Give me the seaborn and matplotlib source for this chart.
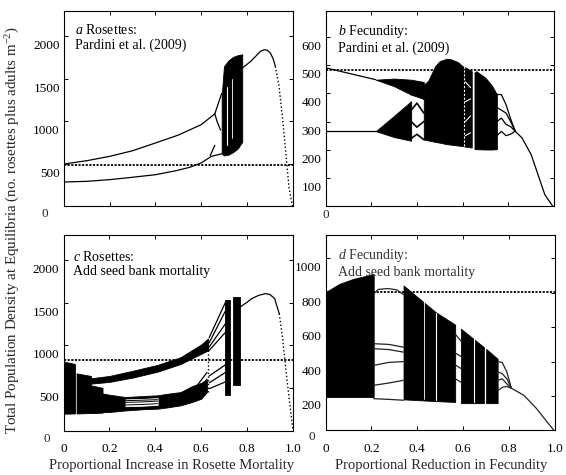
import numpy as np
import pandas as pd
import seaborn as sns
import matplotlib.pyplot as plt
from matplotlib.transforms import ScaledTranslation

sns.set_theme(style="ticks")
plt.rcParams['font.family'] = ['Liberation Serif', 'DejaVu Serif']
plt.rcParams['mathtext.fontset'] = 'custom'
plt.rcParams['mathtext.rm'] = 'Liberation Serif'
plt.rcParams['mathtext.it'] = 'Liberation Serif:italic'
plt.rcParams['axes.edgecolor'] = 'black'

# ---------------- data ----------------
X_TICKS = [0, 0.2, 0.4, 0.6, 0.8, 1.0]
X_TICK_LABELS = ['0', '0.2', '0.4', '0.6', '0.8', '1.0']

# Panel a
a_ref = 492
a_up_x = [0, 0.1, 0.2, 0.3, 0.4, 0.5, 0.6, 0.66]
a_up_v = [500, 539, 590, 656, 747, 840, 962, 1090]
a_lo_x = [0, 0.1, 0.2, 0.3, 0.4, 0.49, 0.55, 0.6, 0.645, 0.69]
a_lo_v = [288, 296, 316, 344, 374, 421, 461, 512, 590, 620]
a_spur1_x = [0.66, 0.675, 0.69]
a_spur1_v = [1090, 1210, 1330]
a_spur2_x = [0.66, 0.67, 0.685]
a_spur2_v = [1090, 1000, 900]
a_spur3_x = [0.64, 0.65, 0.66]
a_spur3_v = [600, 660, 720]
a_ch_x = [0.69, 0.70, 0.72, 0.74, 0.76, 0.78]
a_ch_lo = [620, 600, 610, 640, 680, 760]
a_ch_hi = [1300, 1650, 1720, 1760, 1780, 1790]
a_st_x = [0.78, 0.80, 0.817, 0.84, 0.86, 0.877, 0.89, 0.903, 0.915, 0.925]
a_st_v = [1630, 1670, 1708, 1770, 1826, 1845, 1838, 1806, 1740, 1649]
a_dot_x = [0.925, 0.94, 0.955, 0.97, 0.985, 1.0]
a_dot_v = [1649, 1433, 1080, 649, 218, 0]

# Panel b
b_ref = 484
b_up_x = [0, 0.22]
b_up_v = [490, 448]
b_wedge_x = [0.22, 0.3, 0.375, 0.43]
b_wedge_hi = [448, 452, 448, 440]
b_wedge_lo = [448, 425, 395, 380]
b_low_x = [0, 0.22]
b_low_v = [266, 266]
b_tri_x = [0.22, 0.3, 0.375]
b_tri_hi = [266, 320, 372]
b_tri_lo = [266, 245, 232]
b_win_x = [0.375, 0.40, 0.43]
b_win_lines = [[440, 430, 425], [395, 410, 380], [340, 365, 330],
               [300, 280, 300], [240, 255, 236]]
b_bl1_x = [0.43, 0.45, 0.48, 0.50, 0.53, 0.55, 0.58, 0.60, 0.62, 0.64]
b_bl1_hi = [430, 445, 496, 514, 522, 520, 510, 496, 488, 478]
b_bl1_lo = [236, 233, 228, 225, 220, 218, 215, 213, 210, 208]
b_bl2_x = [0.652, 0.66, 0.7, 0.73, 0.75]
b_bl2_hi = [473, 478, 455, 425, 396]
b_bl2_lo = [203, 202, 201, 201, 202]
b_tail_x = [0.75, 0.77, 0.79, 0.81, 0.83]
b_tail_lines = [[396, 395, 360, 310, 266], [350, 340, 330, 300, 266],
                [300, 312, 290, 282, 266], [250, 265, 250, 255, 266]]
b_st_x = [0.83, 0.86, 0.9, 0.93, 0.96, 0.995]
b_st_v = [266, 242, 183, 112, 41, 0]

# Panel c
c_ref = 824
c_bk1_x = [0, 0.05]
c_bk1_hi = [810, 780]
c_bk1_lo = [197, 200]
c_bk2_x = [0.057, 0.12]
c_bk2_hi = [670, 640]
c_bk2_lo = [200, 205]
c_bk3_x = [0.12, 0.17]
c_bk3_hi = [530, 500]
c_bk3_lo = [205, 210]
c_ub_x = [0.08, 0.2, 0.3, 0.41, 0.51, 0.6, 0.63]
c_ub_hi = [600, 640, 700, 770, 860, 1010, 1080]
c_ub_lo = [540, 570, 620, 690, 780, 900, 940]
c_lb_x = [0.12, 0.2, 0.27, 0.35, 0.41, 0.45, 0.51, 0.56, 0.6, 0.625]
c_lb_lo = [210, 217, 235, 250, 256, 270, 295, 334, 373, 451]
c_lb_hi = [460, 420, 393, 405, 413, 430, 451, 520, 560, 600]
c_hole_x = [0.27, 0.34, 0.41]
c_hole_lo = [285, 290, 300]
c_hole_hi = [365, 370, 380]
c_hole_lines = [[300, 305, 315], [330, 335, 345], [350, 355, 362]]
c_vdot_x = [0.63, 0.63]
c_vdot_v = [451, 1080]
c_fan_x = [0.635, 0.705]
c_fan_lines = [[1090, 1500], [1030, 1400], [980, 1250], [940, 1150],
               [640, 770], [560, 680], [490, 570]]
c_diag_x = [0.56, 0.625]
c_diag_lines = [[450, 680], [400, 600], [360, 520]]
c_bar1_x = [0.705, 0.725]
c_bar1_lo = [413, 413]
c_bar1_hi = [1528, 1528]
c_bar2_x = [0.74, 0.77]
c_bar2_lo = [530, 530]
c_bar2_hi = [1567, 1567]
c_st_x = [0.77, 0.80, 0.82, 0.85, 0.88, 0.90, 0.92, 0.94]
c_st_v = [1450, 1505, 1547, 1585, 1606, 1595, 1547, 1371]
c_dot_x = [0.94, 0.955, 0.97, 0.985, 1.0]
c_dot_v = [1371, 1078, 687, 334, 0]

# Panel d
d_ref = 804
d_bk1_x = [0, 0.06, 0.12, 0.21]
d_bk1_hi = [804, 852, 881, 910]
d_bk1_lo = [194, 194, 194, 194]
d_arch_x = [0.21, 0.23, 0.27, 0.31, 0.34]
d_arch_v = [794, 820, 825, 818, 790]
d_orb_x = [0.21, 0.275, 0.34]
d_orb_lines = [[504, 500, 484], [475, 470, 455], [378, 395, 400],
               [262, 275, 291], [184, 180, 175]]
d_bk2_x = [0.34, 0.48, 0.565]
d_bk2_hi = [843, 688, 615]
d_bk2_lo = [180, 170, 165]
d_mid_x = [0.565, 0.578, 0.59]
d_mid_lines = [[560, 540, 520], [450, 440, 430], [380, 370, 360], [300, 290, 280]]
d_bk4_x = [0.59, 0.69]
d_bk4_hi = [591, 484]
d_bk4_lo = [158, 158]
d_bk5_x = [0.70, 0.75]
d_bk5_hi = [474, 416]
d_bk5_lo = [158, 158]
d_tail_x = [0.75, 0.77, 0.79, 0.81]
d_tail_lines = [[400, 395, 340, 245], [340, 330, 300, 245],
                [290, 300, 270, 245], [230, 250, 255, 245]]
d_st_x = [0.81, 0.865, 0.92, 0.96, 0.995]
d_st_v = [245, 203, 126, 58, 0]

# ---------------- figure ----------------
W, H = 566, 475
fig = plt.figure(figsize=(W / 100, H / 100), dpi=100)


def rect(l, t, r, b):
    return [l / W, 1 - b / H, (r - l) / W, (b - t) / H]


ax_a = fig.add_axes(rect(64, 11, 292.5, 206.5))
ax_b = fig.add_axes(rect(325.5, 11.3, 554, 206.3))
ax_c = fig.add_axes(rect(63.5, 235.3, 293, 430.5))
ax_d = fig.add_axes(rect(325.5, 235.3, 555, 430.3))

LW = 0.9


def line(ax, x, y, color='black', lw=LW, ls='-', z=3):
    sns.lineplot(x=x, y=y, ax=ax, color=color, linewidth=lw, linestyle=ls,
                 estimator=None, sort=False, legend=False, zorder=z)


def band(ax, x, lo, hi, color='black', z=2):
    ax.fill_between(x, lo, hi, color=color, linewidth=0.6, edgecolor=color, zorder=z)


def refline(ax, v):
    ax.axhline(v, color='black', linewidth=1.3, linestyle=(0, (1.2, 0.8)), zorder=1)


# Panel a
refline(ax_a, a_ref)
line(ax_a, a_up_x, a_up_v)
line(ax_a, a_lo_x, a_lo_v)
line(ax_a, a_spur1_x, a_spur1_v)
line(ax_a, a_spur2_x, a_spur2_v)
line(ax_a, a_spur3_x, a_spur3_v)
band(ax_a, a_ch_x, a_ch_lo, a_ch_hi)
line(ax_a, [0.715, 0.715], [720, 1400], color='white', lw=0.8, z=4)
line(ax_a, [0.735, 0.735], [800, 1500], color='white', lw=0.6, z=4)
line(ax_a, a_st_x, a_st_v)
line(ax_a, a_dot_x, a_dot_v, lw=1.0, ls=':')

# Panel b
refline(ax_b, b_ref)
line(ax_b, b_up_x, b_up_v)
band(ax_b, b_wedge_x, b_wedge_lo, b_wedge_hi)
line(ax_b, b_low_x, b_low_v)
band(ax_b, b_tri_x, b_tri_lo, b_tri_hi)
for ln in b_win_lines:
    line(ax_b, b_win_x, ln, lw=1.2)
band(ax_b, b_bl1_x, b_bl1_lo, b_bl1_hi)
line(ax_b, [0.605, 0.605], [215, 495], color='white', lw=0.8, ls=(0, (2, 1.5)), z=4)
for v in [[440, 420], [370, 380], [300, 320], [250, 260]]:
    line(ax_b, [0.612, 0.635], v, color='white', lw=0.8, z=4)
band(ax_b, b_bl2_x, b_bl2_lo, b_bl2_hi)
for ln in b_tail_lines:
    line(ax_b, b_tail_x, ln)
line(ax_b, b_st_x, b_st_v)

# Panel c
refline(ax_c, c_ref)
band(ax_c, c_bk1_x, c_bk1_lo, c_bk1_hi)
band(ax_c, c_bk2_x, c_bk2_lo, c_bk2_hi)
band(ax_c, c_bk3_x, c_bk3_lo, c_bk3_hi)
band(ax_c, c_ub_x, c_ub_lo, c_ub_hi)
band(ax_c, c_lb_x, c_lb_lo, c_lb_hi)
band(ax_c, c_hole_x, c_hole_lo, c_hole_hi, color='white', z=3)
for ln in c_hole_lines:
    line(ax_c, c_hole_x, ln, lw=0.7, z=4)
line(ax_c, c_vdot_x, c_vdot_v, lw=1.0, ls=':')
for ln in c_fan_lines:
    line(ax_c, c_fan_x, ln)
for ln in c_diag_lines:
    line(ax_c, c_diag_x, ln)
band(ax_c, c_bar1_x, c_bar1_lo, c_bar1_hi)
band(ax_c, c_bar2_x, c_bar2_lo, c_bar2_hi)
line(ax_c, c_st_x, c_st_v)
line(ax_c, c_dot_x, c_dot_v, lw=1.0, ls=':')

# Panel d
refline(ax_d, d_ref)
band(ax_d, d_bk1_x, d_bk1_lo, d_bk1_hi)
line(ax_d, d_arch_x, d_arch_v, color='#222222')
for ln in d_orb_lines:
    line(ax_d, d_orb_x, ln, color='#222222')
band(ax_d, d_bk2_x, d_bk2_lo, d_bk2_hi)
line(ax_d, [0.43, 0.43], [185, 760], color='white', lw=0.6, z=4)
line(ax_d, [0.48, 0.48], [175, 680], color='white', lw=0.8, z=4)
for ln in d_mid_lines:
    line(ax_d, d_mid_x, ln, color='#222222')
band(ax_d, d_bk4_x, d_bk4_lo, d_bk4_hi)
line(ax_d, [0.645, 0.645], [165, 530], color='white', lw=0.8, z=4)
band(ax_d, d_bk5_x, d_bk5_lo, d_bk5_hi)
for ln in d_tail_lines:
    line(ax_d, d_tail_x, ln, color='#222222')
line(ax_d, d_st_x, d_st_v, color='#222222')

# ---------------- axes styling ----------------
shift = ScaledTranslation(0, -8.5 / 100, fig.dpi_scale_trans)
specs = [
    (ax_a, (0, 2300), [0, 500, 1000, 1500, 2000], False),
    (ax_b, (0, 690), [0, 100, 200, 300, 400, 500, 600], False),
    (ax_c, (0, 2290), [0, 500, 1000, 1500, 2000], True),
    (ax_d, (0, 1135), [0, 200, 400, 600, 800, 1000], True),
]
for ax, ylim, yt, bottom in specs:
    ax.set_xlim(0, 1)
    ax.set_ylim(*ylim)
    ax.set_xticks(X_TICKS)
    ax.set_yticks(yt)
    ax.set_yticklabels([''] + [str(v) for v in yt[1:]])
    if bottom:
        ax.set_xticklabels(X_TICK_LABELS)
    else:
        ax.set_xticklabels([])
    ax.tick_params(direction='in', length=3, width=0.7, top=True, right=True,
                   labelsize=9.5, colors='black', pad=3)
    ax.tick_params(axis='x', pad=9)
    for lab in ax.get_yticklabels():
        lab.set_transform(lab.get_transform() + shift)
    for s in ax.spines.values():
        s.set_visible(True)
        s.set_linewidth(0.8)
        s.set_color('black')
    ax.set_xlabel('')
    ax.set_ylabel('')

# zero labels placed as in the reference
for (px, py) in [(45, 214), (326, 215), (47, 439), (312, 437)]:
    fig.text(px / W, 1 - py / H, '0', ha='center', va='center', fontsize=9.5)

# panel titles (two lines in one text)
titles = [
    (ax_a, 0.048, 0.94, 'a', 'Rosettes:', 'Pardini et al. (2009)', 'black'),
    (ax_b, 0.056, 0.94, 'b', 'Fecundity:', 'Pardini et al. (2009)', 'black'),
    (ax_c, 0.043, 0.925, 'c', 'Rosettes:', 'Add seed bank mortality', 'black'),
    (ax_d, 0.056, 0.94, 'd', 'Fecundity:', 'Add seed bank mortality', '#333333'),
]
for ax, tx, ty, letter, l1, l2, col in titles:
    ax.text(tx, ty, r'$\mathit{' + letter + '}$ ' + l1 + '\n' + l2,
            transform=ax.transAxes, ha='left', va='top', fontsize=10,
            color=col, zorder=6, linespacing=1.15)

fig.text(0.022, 0.515,
         r'Total Population Density at Equilibria (no. rosettes plus adults m$^{\mathregular{-2}}$)',
         rotation=90, ha='center', va='center', fontsize=10.8)
fig.text(172 / W, 1 - 466 / H, 'Proportional Increase in Rosette Mortality',
         ha='center', va='center', fontsize=10.5)
fig.text(441 / W, 1 - 466 / H, 'Proportional Reduction in Fecundity',
         ha='center', va='center', fontsize=10.5)

fig.savefig('out.png', dpi=100)
